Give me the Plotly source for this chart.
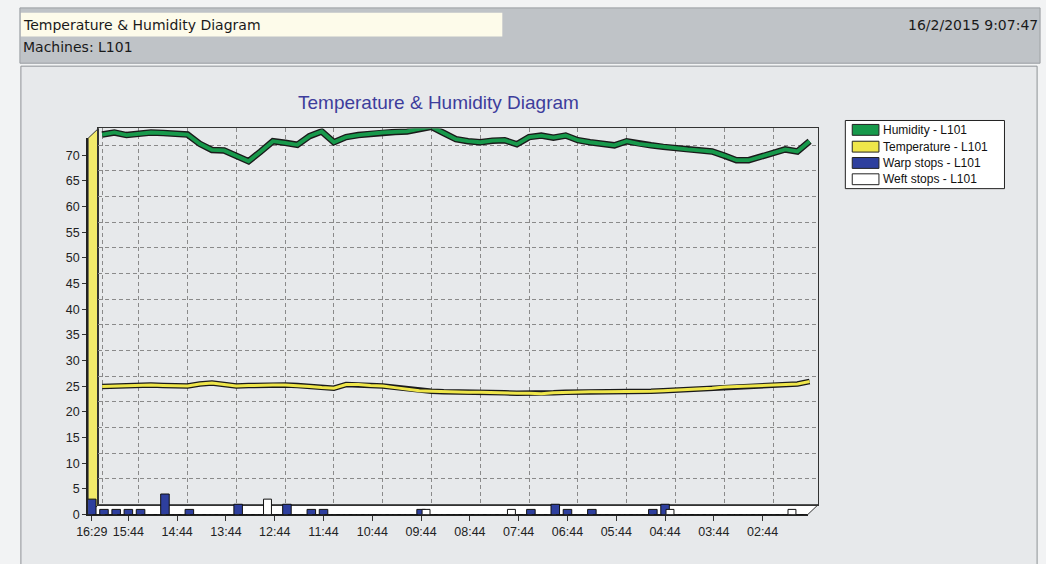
import plotly.graph_objects as go

W, H = 1046, 564

# ---------------- data ----------------
time_labels = ["16:29", "15:44", "14:44", "13:44", "12:44", "11:44", "10:44",
               "09:44", "08:44", "07:44", "06:44", "05:44", "04:44", "03:44", "02:44"]
label_index = [0, 3, 7, 11, 15, 19, 23, 27, 31, 35, 39, 43, 47, 51, 55]

humidity = [72.1, 72.5, 72.0, 72.3, 72.5, 72.4, 72.2, 72.1, 70.3, 69.1,
            69.0, 68.0, 66.9, 68.8, 70.8, 70.5, 70.1, 71.8, 72.7, 70.6,
            71.6, 72.0, 72.3, 72.5, 72.6, 72.7, 73.2, 73.6, 72.4, 71.2,
            70.8, 70.6, 70.9, 71.0, 70.2, 71.6, 71.9, 71.5, 71.9, 71.0,
            70.6, 70.3, 70.0, 70.8, 70.3, 70.0, 69.7, 69.4, 69.2, 69.0,
            68.8, 68.0, 67.1, 67.1, 67.8, 68.5, 69.2, 68.8, 70.8]

temperature = [23.0, 23.1, 23.2, 23.3, 23.3, 23.2, 23.1, 23.1, 23.5, 23.7,
               23.4, 23.1, 23.2, 23.3, 23.3, 23.3, 23.2, 23.0, 22.8, 22.7,
               23.4, 23.4, 23.2, 23.1, 22.8, 22.5, 22.2, 22.1, 22.0, 22.0,
               21.9, 21.9, 21.8, 21.8, 21.7, 21.7, 21.6, 21.8, 21.9, 21.9,
               22.0, 22.0, 22.0, 22.1, 22.1, 22.1, 22.2, 22.3, 22.5, 22.6,
               22.7, 22.9, 23.0, 23.1, 23.2, 23.3, 23.4, 23.5, 24.0]

warp_stops = [3, 1, 1, 1, 1, 0, 4, 0, 1, 0,
              0, 0, 2, 0, 0, 0, 2, 0, 1, 1,
              0, 0, 0, 0, 0, 0, 0, 1, 0, 0,
              0, 0, 0, 0, 0, 0, 1, 0, 2, 1,
              0, 1, 0, 0, 0, 0, 1, 2, 0, 0,
              0, 0, 0, 0, 0, 0, 0, 0, 0]

weft_stops = [0, 0, 0, 0, 0, 0, 0, 0, 0, 0,
              0, 0, 0, 0, 3, 0, 0, 0, 0, 0,
              0, 0, 0, 0, 0, 0, 0, 1, 0, 0,
              0, 0, 0, 0, 1, 0, 0, 0, 0, 0,
              0, 0, 0, 0, 0, 0, 0, 1, 0, 0,
              0, 0, 0, 0, 0, 0, 0, 1, 0]

series_names = ["Humidity - L101", "Temperature - L101", "Warp stops - L101", "Weft stops - L101"]
series_colors = ["#17994b", "#efe64a", "#2e3f9e", "#ffffff"]

idx = list(range(len(humidity)))

# ---------------- helpers (window pixel -> paper) ----------------
def px(x):
    return x / W

def py(y):
    return 1 - y / H

XR = [-0.3, 58.7]
YR = [0, 73.3]
DX, DY = 10.5, 10  # 3D depth offset

FRONT_L, FRONT_R, FRONT_B, FRONT_T = 77, 805, 521, 140
BACK_L, BACK_R, BACK_B, BACK_T = FRONT_L + DX, FRONT_R + DX, FRONT_B - DY, FRONT_T - DY

fig = go.Figure()

# lines on the back plane (with dark outline to mimic 3D ribbons)
fig.add_trace(go.Scatter(x=idx, y=humidity, mode="lines", line=dict(color="#1a1a1a", width=6.5),
                         xaxis="x", yaxis="y", showlegend=False, hoverinfo="skip"))
fig.add_trace(go.Scatter(x=idx, y=humidity, mode="lines", line=dict(color=series_colors[0], width=3.8),
                         xaxis="x", yaxis="y", showlegend=False, name=series_names[0]))
fig.add_trace(go.Scatter(x=idx, y=temperature, mode="lines", line=dict(color="#1a1a1a", width=5.5),
                         xaxis="x", yaxis="y", showlegend=False, hoverinfo="skip"))
fig.add_trace(go.Scatter(x=idx, y=temperature, mode="lines", line=dict(color=series_colors[1], width=3),
                         xaxis="x", yaxis="y", showlegend=False, name=series_names[1]))

# bars on the front plane
fig.add_trace(go.Bar(x=idx, y=warp_stops, xaxis="x2", yaxis="y2", width=0.7, offset=-0.35,
                     marker=dict(color=series_colors[2], line=dict(color="#111111", width=1)),
                     showlegend=False, name=series_names[2]))
fig.add_trace(go.Bar(x=idx, y=weft_stops, xaxis="x2", yaxis="y2", width=0.65, offset=0.08,
                     marker=dict(color=series_colors[3], line=dict(color="#111111", width=1)),
                     showlegend=False, name=series_names[3]))

shapes = []
# header band and chart panel
shapes.append(dict(type="rect", xref="paper", yref="paper", x0=px(8), x1=px(1040), y0=py(8), y1=py(64),
                   fillcolor="#bfc3c7", line=dict(color="#9a9ea2", width=1), layer="below"))
shapes.append(dict(type="rect", xref="paper", yref="paper", x0=px(9), x1=px(496), y0=py(13), y1=py(37),
                   fillcolor="#fdfbea", line=dict(width=0), layer="below"))
shapes.append(dict(type="rect", xref="paper", yref="paper", x0=px(9), x1=px(1037), y0=py(67), y1=py(600),
                   fillcolor="#e7e9eb", line=dict(color="#8e9296", width=1), layer="below"))

# left wall (yellow)
shapes.append(dict(type="path", xref="paper", yref="paper", layer="below",
                   path=f"M{px(FRONT_L)},{py(FRONT_B)} L{px(FRONT_L)},{py(FRONT_T)} "
                        f"L{px(BACK_L)},{py(BACK_T)} L{px(BACK_L)},{py(BACK_B)} Z",
                   fillcolor="#f3ea6a", line=dict(color="#333333", width=1)))
# bottom wall (white)
shapes.append(dict(type="path", xref="paper", yref="paper", layer="below",
                   path=f"M{px(FRONT_L)},{py(FRONT_B)} L{px(BACK_L)},{py(BACK_B)} "
                        f"L{px(BACK_R)},{py(BACK_B)} L{px(FRONT_R)},{py(FRONT_B)} Z",
                   fillcolor="#ffffff", line=dict(color="#333333", width=1)))

# legend (manual, rectangular swatches)
LX0, LX1, LY0, LY1 = 843, 1004, 122, 191
shapes.append(dict(type="rect", xref="paper", yref="paper", x0=px(LX0), x1=px(LX1), y0=py(LY0), y1=py(LY1),
                   fillcolor="#ffffff", line=dict(color="#222222", width=1)))
annotations = []
row_y = [131.5, 148.5, 165, 181.5]
for name, col, ry in zip(series_names, series_colors, row_y):
    shapes.append(dict(type="rect", xref="paper", yref="paper", x0=px(850), x1=px(877),
                       y0=py(ry - 5.5), y1=py(ry + 5.5), fillcolor=col,
                       line=dict(color="#222222", width=1)))
    annotations.append(dict(x=px(879), y=py(ry), xref="paper", yref="paper", text=name,
                            showarrow=False, xanchor="left", yanchor="middle",
                            font=dict(family="Liberation Sans, Arial", size=12, color="#111111")))

# header texts
hfont = dict(family="DejaVu Sans", size=14, color="#1a1a1a")
annotations.append(dict(x=px(9), y=py(25), xref="paper", yref="paper", text="Temperature & Humidity Diagram",
                        showarrow=False, xanchor="left", yanchor="middle", font=hfont))
annotations.append(dict(x=px(9), y=py(48), xref="paper", yref="paper", text="Machines: L101",
                        showarrow=False, xanchor="left", yanchor="middle", font=hfont))
annotations.append(dict(x=px(1040), y=py(25), xref="paper", yref="paper", text="16/2/2015 9:07:47",
                        showarrow=False, xanchor="right", yanchor="middle", font=hfont))
# chart title
annotations.append(dict(x=px(431), y=py(104), xref="paper", yref="paper", text="Temperature & Humidity Diagram",
                        showarrow=False, xanchor="center", yanchor="middle",
                        font=dict(family="Liberation Sans, Arial", size=19, color="#3d3d9c")))

grid_dash = "4px,3px"
tickfont = dict(family="Liberation Sans, Arial", size=12.5, color="#222222")

fig.update_layout(
    width=W, height=H,
    margin=dict(l=0, r=0, t=0, b=0),
    paper_bgcolor="#f2f3f4",
    plot_bgcolor="rgba(0,0,0,0)",
    barmode="overlay",
    showlegend=False,
    shapes=shapes,
    annotations=annotations,
    xaxis=dict(domain=[px(BACK_L), px(BACK_R)], range=XR, anchor="y",
               tickvals=label_index, showticklabels=False, ticks="",
               showgrid=True, gridcolor="#8a8a8a", griddash=grid_dash, gridwidth=1,
               showline=True, mirror=True, linecolor="#333333", linewidth=1, zeroline=False),
    yaxis=dict(domain=[py(BACK_B), py(BACK_T)], range=YR, anchor="x",
               tick0=0, dtick=5, showticklabels=False, ticks="",
               showgrid=True, gridcolor="#8a8a8a", griddash=grid_dash, gridwidth=1,
               showline=True, mirror=True, linecolor="#333333", linewidth=1, zeroline=False),
    xaxis2=dict(domain=[px(FRONT_L), px(FRONT_R)], range=XR, anchor="y2",
                tickvals=label_index, ticktext=time_labels, ticks="outside", ticklen=5,
                tickcolor="#333333", showgrid=False, zeroline=False,
                showline=True, linecolor="#222222", linewidth=1, tickfont=tickfont),
    yaxis2=dict(domain=[py(FRONT_B), py(FRONT_T)], range=YR, anchor="x2",
                tick0=0, dtick=5, ticks="outside", ticklen=4, tickcolor="#333333",
                showgrid=False, zeroline=False,
                showline=True, linecolor="#222222", linewidth=2, tickfont=tickfont),
)

fig.write_html("out.html", config={"displayModeBar": False},
               post_script="document.body.style.margin='0';document.body.style.overflow='hidden';")
